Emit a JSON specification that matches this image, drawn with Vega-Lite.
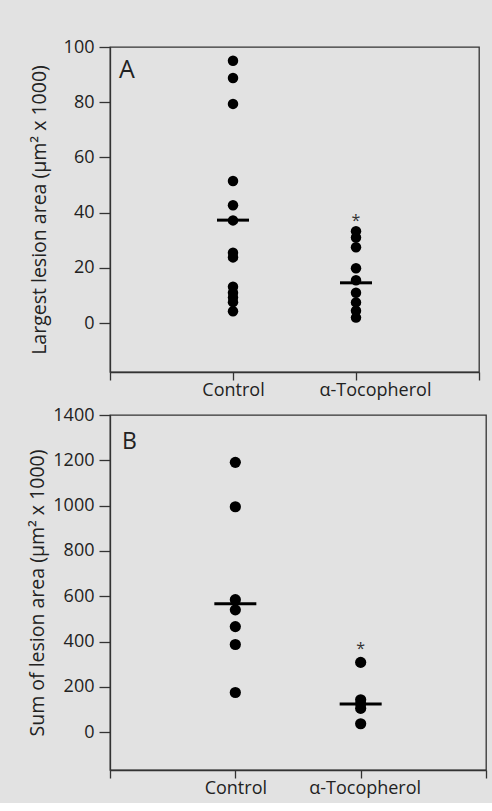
{
  "$schema": "https://vega.github.io/schema/vega-lite/v6.json",
  "background": "#e2e2e2",
  "padding": {"left": 27, "top": 37, "right": 6, "bottom": 5},
  "spacing": 5,
  "config": {
    "font": "Open Sans",
    "view": {"stroke": "#333333", "strokeWidth": 1.3},
    "axis": {
      "grid": false,
      "domainColor": "#333333",
      "domainWidth": 1.3,
      "tickColor": "#333333",
      "tickWidth": 1.3,
      "labelColor": "#222222",
      "labelFontSize": 18,
      "labelFont": "Open Sans",
      "titleFont": "Open Sans",
      "titleFontSize": 19.5,
      "titleFontWeight": "normal",
      "titleColor": "#222222"
    }
  },
  "datasets": {
    "a": [
      {"group": "Control", "kind": "point", "value": 95},
      {"group": "Control", "kind": "point", "value": 88.8},
      {"group": "Control", "kind": "point", "value": 79.4},
      {"group": "Control", "kind": "point", "value": 51.5},
      {"group": "Control", "kind": "point", "value": 42.7},
      {"group": "Control", "kind": "point", "value": 37.2},
      {"group": "Control", "kind": "point", "value": 25.5},
      {"group": "Control", "kind": "point", "value": 23.8},
      {"group": "Control", "kind": "point", "value": 13.2},
      {"group": "Control", "kind": "point", "value": 11},
      {"group": "Control", "kind": "point", "value": 9.3},
      {"group": "Control", "kind": "point", "value": 7.6},
      {"group": "Control", "kind": "point", "value": 4.3},
      {"group": "α-Tocopherol", "kind": "point", "value": 33.3},
      {"group": "α-Tocopherol", "kind": "point", "value": 31},
      {"group": "α-Tocopherol", "kind": "point", "value": 27.5},
      {"group": "α-Tocopherol", "kind": "point", "value": 19.9},
      {"group": "α-Tocopherol", "kind": "point", "value": 15.5},
      {"group": "α-Tocopherol", "kind": "point", "value": 11},
      {"group": "α-Tocopherol", "kind": "point", "value": 7.5},
      {"group": "α-Tocopherol", "kind": "point", "value": 4.5},
      {"group": "α-Tocopherol", "kind": "point", "value": 2},
      {"group": "Control", "kind": "median", "value": 37.3},
      {"group": "α-Tocopherol", "kind": "median", "value": 14.6},
      {"group": "α-Tocopherol", "kind": "sig", "value": 35.2, "label": "*"}
    ],
    "b": [
      {"group": "Control", "kind": "point", "value": 1191},
      {"group": "Control", "kind": "point", "value": 995},
      {"group": "Control", "kind": "point", "value": 585},
      {"group": "Control", "kind": "point", "value": 540},
      {"group": "Control", "kind": "point", "value": 466},
      {"group": "Control", "kind": "point", "value": 387},
      {"group": "Control", "kind": "point", "value": 175},
      {"group": "α-Tocopherol", "kind": "point", "value": 308},
      {"group": "α-Tocopherol", "kind": "point", "value": 143},
      {"group": "α-Tocopherol", "kind": "point", "value": 125},
      {"group": "α-Tocopherol", "kind": "point", "value": 105},
      {"group": "α-Tocopherol", "kind": "point", "value": 37},
      {"group": "Control", "kind": "median", "value": 567},
      {"group": "α-Tocopherol", "kind": "median", "value": 124},
      {"group": "α-Tocopherol", "kind": "sig", "value": 347, "label": "*"}
    ]
  },
  "vconcat": [
    {
      "width": 369,
      "height": 325,
      "data": {"name": "a"},
      "encoding": {
        "x": {
          "field": "group",
          "type": "nominal",
          "scale": {"type": "point", "domain": ["L", "Control", "α-Tocopherol", "R"], "padding": 0},
          "axis": {
            "title": null,
            "labelAngle": 0,
            "tickSize": 8,
            "labelPadding": 1,
            "labelExpr": "datum.value == 'L' || datum.value == 'R' ? '' : datum.value",
            "labelOffset": {"condition": {"test": "datum.value == 'α-Tocopherol'", "value": 19}, "value": 0}
          }
        }
      },
      "layer": [
        {
          "transform": [{"filter": "datum.kind == 'point'"}],
          "mark": {"type": "point", "filled": true, "size": 110, "color": "black", "opacity": 1},
          "encoding": {
            "y": {
              "field": "value",
              "type": "quantitative",
              "scale": {"domain": [-17.7, 100], "nice": false, "zero": false},
              "axis": {
                "title": "Largest lesion area (µm² x 1000)",
                "values": [0, 20, 40, 60, 80, 100],
                "format": "d",
                "tickSize": 11,
                "labelPadding": 5,
                "titlePadding": 14
              }
            }
          }
        },
        {
          "transform": [{"filter": "datum.kind == 'median'"}],
          "mark": {"type": "tick", "thickness": 3, "size": 32, "color": "black", "opacity": 1},
          "encoding": {"y": {"field": "value", "type": "quantitative"}}
        },
        {
          "transform": [{"filter": "datum.kind == 'sig'"}],
          "mark": {"type": "text", "fontSize": 16, "color": "#333333", "baseline": "alphabetic", "align": "center"},
          "encoding": {"y": {"field": "value", "type": "quantitative"}, "text": {"field": "label"}}
        },
        {
          "data": {"values": [{"panel": "A"}]},
          "mark": {"type": "text", "fontSize": 25, "color": "#222222", "align": "left", "baseline": "alphabetic", "dx": 9},
          "encoding": {"x": {"datum": "L"}, "y": {"datum": 88.8}, "text": {"field": "panel"}}
        }
      ]
    },
    {
      "width": 376,
      "height": 355,
      "data": {"name": "b"},
      "encoding": {
        "x": {
          "field": "group",
          "type": "nominal",
          "scale": {"type": "point", "domain": ["L", "Control", "α-Tocopherol", "R"], "padding": 0},
          "axis": {
            "title": null,
            "labelAngle": 0,
            "tickSize": 8,
            "labelPadding": 1,
            "labelExpr": "datum.value == 'L' || datum.value == 'R' ? '' : datum.value",
            "labelOffset": {"condition": {"test": "datum.value == 'α-Tocopherol'", "value": 4}, "value": 0}
          }
        }
      },
      "layer": [
        {
          "transform": [{"filter": "datum.kind == 'point'"}],
          "mark": {"type": "point", "filled": true, "size": 125, "color": "black", "opacity": 1},
          "encoding": {
            "y": {
              "field": "value",
              "type": "quantitative",
              "scale": {"domain": [-167, 1400], "nice": false, "zero": false},
              "axis": {
                "title": "Sum of lesion area (µm² x 1000)",
                "values": [0, 200, 400, 600, 800, 1000, 1200, 1400],
                "format": "d",
                "tickSize": 11,
                "labelPadding": 5,
                "titlePadding": 5
              }
            }
          }
        },
        {
          "transform": [{"filter": "datum.kind == 'median'"}],
          "mark": {"type": "tick", "thickness": 3, "size": 42, "color": "black", "opacity": 1},
          "encoding": {"y": {"field": "value", "type": "quantitative"}}
        },
        {
          "transform": [{"filter": "datum.kind == 'sig'"}],
          "mark": {"type": "text", "fontSize": 16, "color": "#333333", "baseline": "alphabetic", "align": "center"},
          "encoding": {"y": {"field": "value", "type": "quantitative"}, "text": {"field": "label"}}
        },
        {
          "data": {"values": [{"panel": "B"}]},
          "mark": {"type": "text", "fontSize": 23, "color": "#222222", "align": "left", "baseline": "alphabetic", "dx": 12},
          "encoding": {"x": {"datum": "L"}, "y": {"datum": 1250}, "text": {"field": "panel"}}
        }
      ]
    }
  ]
}
